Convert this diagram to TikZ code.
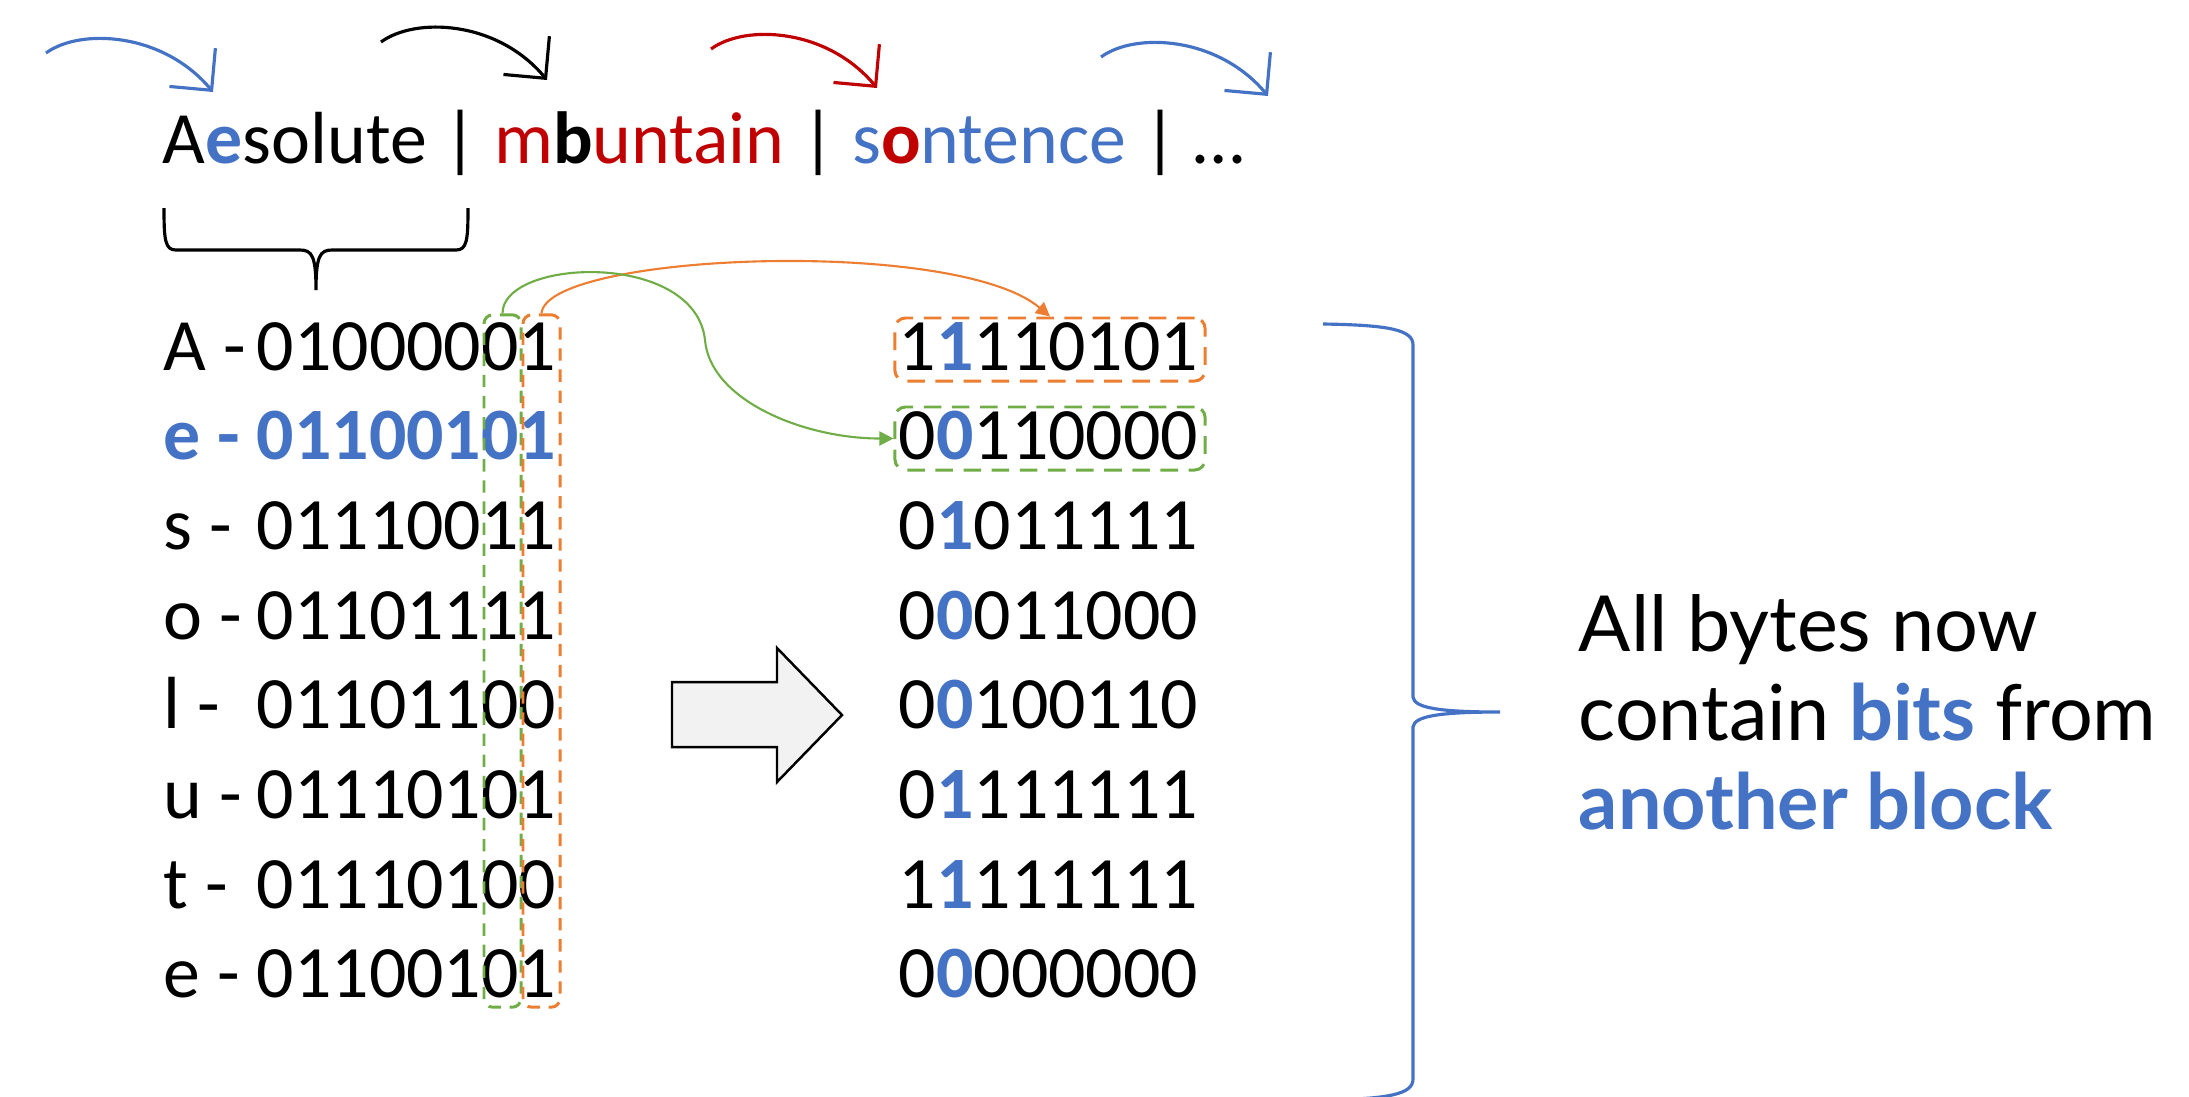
\documentclass[tikz,border=0pt]{standalone}
\usepackage{fontspec}
\setmainfont{Carlito}
\newfontfamily\notefont{Lato}
\usetikzlibrary{arrows.meta}
\definecolor{kblue}{HTML}{4472C4}
\definecolor{kred}{HTML}{C00000}
\definecolor{korange}{HTML}{ED7D31}
\definecolor{kgreen}{HTML}{70AD47}
\definecolor{kgray}{HTML}{F2F2F2}

\begin{document}
\begin{tikzpicture}[
x=0.01cm, y=-0.01cm,
bits/.style={anchor=base west,
inner sep=0pt,
font=\fontsize{21}{25}\selectfont},
normrow/.style={},
hlrow/.style={text=kblue,
font=\fontsize{21}{25}\selectfont\bfseries},
colbox/.style={draw=#1,
dash pattern=on 3.5pt off 2.5pt,
line width=0.85pt,
rounded corners=2.5pt,
minimum width=0.37cm,
minimum height=6.92cm,
inner sep=0pt},
rowbox/.style={draw=#1,
dash pattern=on 5pt off 3pt,
line width=0.85pt,
rounded corners=3pt,
minimum width=3.1cm,
minimum height=0.63cm,
inner sep=0pt},
hop/.style={draw=#1, line width=0.9pt, -{Straight Barb[length=8.5pt, width=17pt]}},
link/.style={draw=#1, line width=0.6pt, -{Triangle[length=4pt, width=4pt]}}
]
\useasboundingbox (0,0) rectangle (2189,1096);

\node[bits] (title) at (162,163) {A\textcolor{kblue}{\bfseries e}solute | \textcolor{kred}{m}{\bfseries b}\textcolor{kred}{untain} | \textcolor{kblue}{s}\textcolor{kred}{\bfseries o}\textcolor{kblue}{ntence} | …};

\coordinate (s1) at (46,53);
\coordinate (t1) at (213,92);
\coordinate (s2) at (381,42);
\coordinate (t2) at (547,80);
\coordinate (s3) at (711,49);
\coordinate (t3) at (877,88);
\coordinate (s4) at (1101,57);
\coordinate (t4) at (1268,96);

\draw[hop=kblue] (s1) .. controls +(34,-25) and +(-50,-60) .. (t1);
\draw[hop=black] (s2) .. controls +(34,-25) and +(-50,-60) .. (t2);
\draw[hop=kred] (s3) .. controls +(34,-25) and +(-50,-60) .. (t3);
\draw[hop=kblue] (s4) .. controls +(34,-25) and +(-50,-60) .. (t4);

\draw[line width=0.9pt] (164,208) .. controls (164,240) and (165,250) .. (176,250) -- (300,250) .. controls (312,250) and (316,256) .. (316,290) .. controls (316,256) and (320,250) .. (332,250) -- (456,250) .. controls (467,250) and (468,240) .. (468,208);

\foreach \i/\letter/\bitsv/\sty in {1/A/01000001/normrow, 2/e/01100101/hlrow, 3/s/01110011/normrow, 4/o/01101111/normrow, 5/l/01101100/normrow, 6/u/01110101/normrow, 7/t/01110100/normrow, 8/e/01100101/normrow}{
\node[bits, \sty] (tag\i) at (163, {370+89.7*(\i-1)}) {\letter\ -};
\node[bits, \sty] (byte\i) at (256, {370+89.7*(\i-1)}) {\bitsv};
}

\foreach \i/\lead/\hi/\rest in {1/1/1/110101, 2/0/0/110000, 3/0/1/011111, 4/0/0/011000, 5/0/0/100110, 6/0/1/111111, 7/1/1/111111, 8/0/0/000000}
\node[bits] (mixed\i) at (898, {370+89.7*(\i-1)}) {\lead\textcolor{kblue}{\bfseries\hi}\rest};

\node[colbox=kgreen] (colG) at (502.5,661) {};
\node[colbox=korange] (colO) at (541.5,661) {};
\node[rowbox=korange] (rowO) at (1050,349.5) {};
\node[rowbox=kgreen] (rowG) at (1050,438.5) {};

\coordinate (dip) at (705,340);
\draw[link=korange] (colO.north) .. controls +(5,-60) and +(-95,-80) .. (rowO.north);
\draw[link=kgreen] (colG.north) .. controls +(0,-55) and +(-10,-90) .. (dip) .. controls +(5,60) and +(-90,0) .. (rowG.west);

\draw[fill=kgray, line width=0.7pt] (672,682) -- (777,682) -- (777,648) -- (842,715) -- (777,782) -- (777,747) -- (672,747) -- cycle;

\draw[kblue, line width=0.9pt] (1323,324) .. controls (1390,325) and (1413,330) .. (1413,345) -- (1413,697) .. controls (1414,708) and (1440,712) .. (1500,712) .. controls (1440,712) and (1414,716) .. (1413,727) -- (1413,1079) .. controls (1413,1094) and (1390,1099) .. (1323,1100);

\node[anchor=base west, inner sep=0pt, align=left, font=\notefont\fontsize{22}{25.3}\selectfont] (note) at (1578,829) {All bytes now\\contain \textcolor{kblue}{\bfseries bits} from\\\textcolor{kblue}{\bfseries another block}};

\end{tikzpicture}
\end{document}
